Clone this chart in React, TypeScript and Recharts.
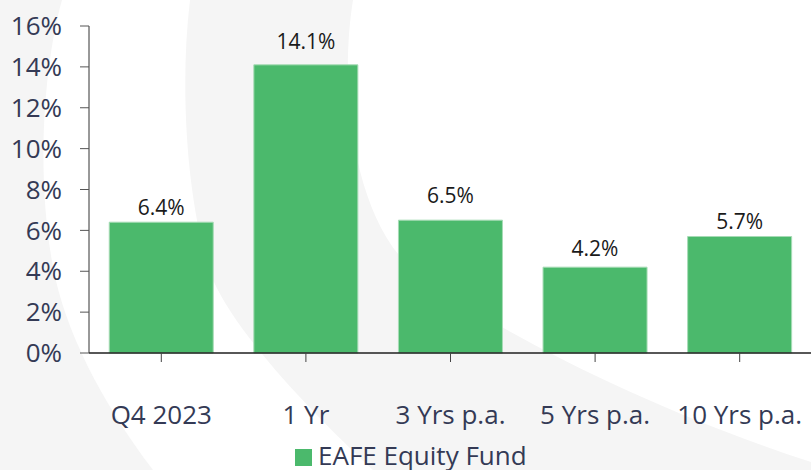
import React from 'react';
import { BarChart, Bar, XAxis, YAxis, Legend, LabelList } from 'recharts';

const periods = ['Q4 2023', '1 Yr', '3 Yrs p.a.', '5 Yrs p.a.', '10 Yrs p.a.'];
const fundReturns = [6.4, 14.1, 6.5, 4.2, 5.7];
const yTicks = [0, 2, 4, 6, 8, 10, 12, 14, 16];
const seriesName = 'EAFE Equity Fund';

const data = periods.map((period, i) => ({ period, fund: fundReturns[i] }));

const GREEN = '#4bb96c';
const TEXT = '#343a55';
const FONT = '"Open Sans", "Noto Sans", sans-serif';

// the source places value labels a bit unevenly above the bars
const labelGaps = [7, 16, 17, 11, 8];

const ValueLabel = (props: any) => {
  const { x, y, width, value, index } = props;
  return (
    <text
      x={Number(x) + Number(width) / 2}
      y={Number(y) - (labelGaps[index] ?? 6)}
      textAnchor="middle"
      fontSize={21}
      fontFamily={FONT}
      fill="#1a1a1a"
    >
      {`${Number(value).toFixed(1)}%`}
    </text>
  );
};

const LegendContent = () => (
  <div
    style={{
      height: 30,
      display: 'flex',
      alignItems: 'center',
      paddingLeft: 295,
      fontFamily: FONT,
      fontSize: 26,
      lineHeight: '30px',
      color: TEXT,
      whiteSpace: 'nowrap',
    }}
  >
    <span style={{ width: 17, height: 17, background: GREEN, display: 'inline-block', marginRight: 6, marginTop: 4 }} />
    <span>{seriesName}</span>
  </div>
);

export default function App() {
  return (
    <div style={{ position: 'absolute', left: 0, top: 0, width: 811, height: 470, overflow: 'hidden', background: '#fff' }}>
      {/* faint watermark behind the chart */}
      <svg width={811} height={470} style={{ position: 'absolute', left: 0, top: 0 }}>
        <path d="M0,0 L62,0 C45,60 35,170 53,267 C65,330 100,400 153,470 L0,470 Z" fill="#f5f5f5" />
        <path
          d="M190,0 L353,0 C340,80 350,200 403,260 C470,320 650,410 811,462 L811,470 L373,470 C320,420 240,340 213,280 C190,220 178,100 190,0 Z"
          fill="#f5f5f5"
        />
      </svg>
      <div style={{ position: 'absolute', left: 0, top: 0 }}>
        <BarChart
          width={812}
          height={470}
          data={data}
          margin={{ top: 26, right: 0, left: 0, bottom: 0 }}
          barCategoryGap="14%"
        >
          <XAxis
            dataKey="period"
            height={87}
            tickSize={9}
            tickMargin={44}
            axisLine={{ stroke: '#1f1f1f', strokeWidth: 1.5 }}
            tickLine={{ stroke: '#444' }}
            tick={{ fontSize: 26, fill: TEXT, fontFamily: FONT }}
            interval={0}
          />
          <YAxis
            width={89}
            domain={[0, 16]}
            ticks={yTicks}
            interval={0}
            tickFormatter={(v) => `${v}%`}
            tickSize={9}
            tickMargin={18}
            axisLine={{ stroke: '#333' }}
            tickLine={{ stroke: '#555' }}
            tick={{ fontSize: 26, fill: TEXT, fontFamily: FONT }}
          />
          <Legend verticalAlign="bottom" content={<LegendContent />} />
          <Bar dataKey="fund" name={seriesName} fill={GREEN} stroke="#a6dbb5" strokeWidth={1} isAnimationActive={false}>
            <LabelList dataKey="fund" content={<ValueLabel />} />
          </Bar>
        </BarChart>
      </div>
    </div>
  );
}
